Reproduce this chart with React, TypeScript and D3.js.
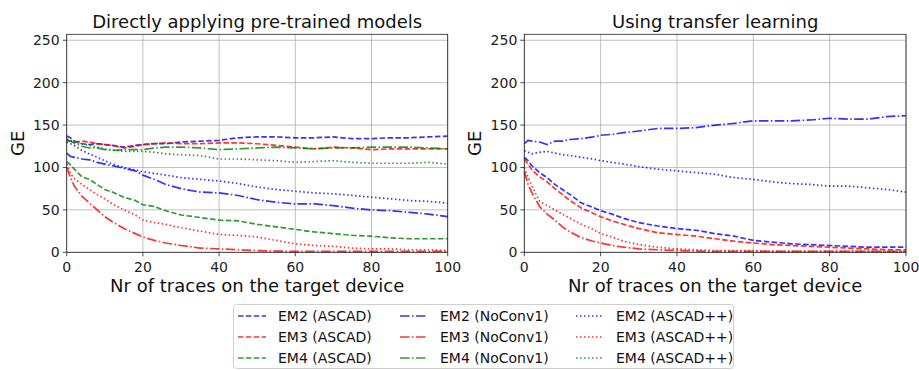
import React from 'react';
import * as d3 from 'd3';

const W = 919;
const H = 370;

const XS = [0, 1, 2, 4, 6, 8, 10, 12, 15, 18, 20, 23, 26, 30, 35, 40, 45, 50, 55, 60, 65, 70, 75, 80, 85, 90, 95, 100];

// left panel: directly applying pre-trained models
const L_EM2_ASCAD = [137, 135, 131, 128, 127, 128, 127, 126, 124, 126, 127, 128, 128, 130, 131, 132, 135, 136, 136, 135, 135, 136, 134, 134, 135, 135, 136, 137];
const L_EM3_ASCAD = [132, 131, 130, 131, 130, 128, 127, 126, 123, 125, 127, 128, 129, 128, 128, 129, 129, 128, 126, 124, 122, 124, 123, 121, 122, 122, 122, 122];
const L_EM4_ASCAD = [107, 103, 98, 89, 86, 80, 74, 71, 65, 61, 56, 54, 49, 44, 41, 38, 37, 33, 30, 27, 24, 22, 20, 19, 17, 16, 16, 16];
const L_EM2_NC = [117, 113, 112, 110, 109, 106, 104, 102, 99, 96, 91, 86, 80, 75, 71, 70, 67, 62, 59, 57, 57, 55, 52, 50, 49, 47, 45, 42];
const L_EM3_NC = [100, 88, 78, 66, 58, 50, 42, 36, 28, 22, 18, 14, 11, 8, 5, 4, 3, 2, 1.5, 1, 1, 1, 1, 1, 1, 1, 1, 1];
const L_EM4_NC = [133, 131, 129, 125, 123, 123, 121, 120, 121, 121, 121, 123, 124, 124, 123, 121, 122, 123, 124, 123, 122, 123, 123, 124, 124, 124, 123, 122];
const L_EM2_PP = [130, 128, 126, 120, 116, 112, 108, 104, 100, 97, 95, 93, 91, 88, 86, 84, 81, 77, 74, 72, 70, 69, 67, 65, 63, 61, 60, 58];
const L_EM3_PP = [104, 93, 87, 80, 74, 68, 63, 57, 50, 44, 38, 35, 33, 29, 25, 21, 20, 18, 14, 10, 8, 7, 5, 4, 4, 3, 3, 2];
const L_EM4_PP = [134, 132, 130, 128, 126, 124, 122, 121, 119, 119, 119, 118, 116, 115, 114, 110, 110, 109, 108, 106, 107, 108, 106, 105, 105, 105, 106, 104];

// right panel: using transfer learning
const R_EM2_ASCAD = [112, 108, 102, 94, 88, 80, 74, 68, 58, 53, 49, 45, 40, 35, 31, 28, 26, 22, 19, 14, 12, 10, 9, 8, 7, 6, 6, 6];
const R_EM3_ASCAD = [110, 104, 97, 89, 83, 75, 68, 61, 52, 46, 42, 37, 33, 28, 23, 21, 19, 16, 13, 11, 9, 8, 7, 6, 5, 4, 3, 3];
const R_EM2_NC = [128, 132, 131, 130, 127, 131, 131, 133, 134, 136, 138, 139, 141, 143, 146, 146, 147, 150, 152, 155, 155, 155, 156, 158, 157, 157, 160, 161];
const R_EM3_NC = [95, 80, 70, 54, 45, 38, 30, 24, 17, 13, 11, 8, 6, 4, 3, 2, 1.5, 1, 1, 1, 1, 1, 1, 1, 1, 1, 1, 1];
const R_EM2_PP = [120, 118, 116, 118, 119, 117, 115, 114, 112, 110, 108, 106, 104, 101, 98, 96, 94, 92, 88, 86, 83, 81, 80, 78, 78, 76, 74, 71];
const R_EM3_PP = [100, 88, 78, 60, 55, 50, 45, 40, 33, 27, 22, 18, 13, 9, 6, 4, 3, 2, 2, 2, 1, 1, 1, 1, 1, 1, 1, 1];

const X_TICKS = [0, 20, 40, 60, 80, 100];
const Y_TICKS = [0, 50, 100, 150, 200, 250];

const COLORS = { EM2: '#0000ff', EM3: '#ff0000', EM4: '#008000' };
const DASH = { ASCAD: '5.5,2.4', NoConv1: '9.6,2.4,1.5,2.4', 'ASCAD++': '1.5,2.5' };

const LEGEND = [
  { label: 'EM2 (ASCAD)', color: COLORS.EM2, dash: DASH.ASCAD },
  { label: 'EM3 (ASCAD)', color: COLORS.EM3, dash: DASH.ASCAD },
  { label: 'EM4 (ASCAD)', color: COLORS.EM4, dash: DASH.ASCAD },
  { label: 'EM2 (NoConv1)', color: COLORS.EM2, dash: DASH.NoConv1 },
  { label: 'EM3 (NoConv1)', color: COLORS.EM3, dash: DASH.NoConv1 },
  { label: 'EM4 (NoConv1)', color: COLORS.EM4, dash: DASH.NoConv1 },
  { label: 'EM2 (ASCAD++)', color: COLORS.EM2, dash: DASH['ASCAD++'] },
  { label: 'EM3 (ASCAD++)', color: COLORS.EM3, dash: DASH['ASCAD++'] },
  { label: 'EM4 (ASCAD++)', color: COLORS.EM4, dash: DASH['ASCAD++'] },
];

const LEFT_SERIES = [
  { ys: L_EM2_ASCAD, color: COLORS.EM2, dash: DASH.ASCAD },
  { ys: L_EM3_ASCAD, color: COLORS.EM3, dash: DASH.ASCAD },
  { ys: L_EM4_ASCAD, color: COLORS.EM4, dash: DASH.ASCAD },
  { ys: L_EM2_NC, color: COLORS.EM2, dash: DASH.NoConv1 },
  { ys: L_EM3_NC, color: COLORS.EM3, dash: DASH.NoConv1 },
  { ys: L_EM4_NC, color: COLORS.EM4, dash: DASH.NoConv1 },
  { ys: L_EM2_PP, color: COLORS.EM2, dash: DASH['ASCAD++'] },
  { ys: L_EM3_PP, color: COLORS.EM3, dash: DASH['ASCAD++'] },
  { ys: L_EM4_PP, color: COLORS.EM4, dash: DASH['ASCAD++'] },
];

const RIGHT_SERIES = [
  { ys: R_EM2_ASCAD, color: COLORS.EM2, dash: DASH.ASCAD },
  { ys: R_EM3_ASCAD, color: COLORS.EM3, dash: DASH.ASCAD },
  { ys: R_EM2_NC, color: COLORS.EM2, dash: DASH.NoConv1 },
  { ys: R_EM3_NC, color: COLORS.EM3, dash: DASH.NoConv1 },
  { ys: R_EM2_PP, color: COLORS.EM2, dash: DASH['ASCAD++'] },
  { ys: R_EM3_PP, color: COLORS.EM3, dash: DASH['ASCAD++'] },
];

const FONT = 'DejaVu Sans, sans-serif';
const TOP = 34.3;
const BOTTOM = 252.3;

function Panel({ x0, x1, title, series }) {
  const x = d3.scaleLinear().domain([0, 100]).range([x0, x1]);
  const y = d3.scaleLinear().domain([0, 257]).range([BOTTOM, TOP]);
  const line = d3.line<number>()
    .x((_, i) => x(XS[i]))
    .y(d => y(d));

  return (
    <g>
      {X_TICKS.map(t => (
        <line key={'gx' + t} x1={x(t)} x2={x(t)} y1={TOP} y2={BOTTOM} stroke="#b0b0b0" strokeWidth={0.8} />
      ))}
      {Y_TICKS.map(t => (
        <line key={'gy' + t} x1={x0} x2={x1} y1={y(t)} y2={y(t)} stroke="#b0b0b0" strokeWidth={0.8} />
      ))}
      {series.map((s, i) => (
        <path key={i} d={line(s.ys) || ''} fill="none" stroke={s.color} strokeOpacity={0.8}
          strokeWidth={1.7} strokeDasharray={s.dash} />
      ))}
      <rect x={x0} y={TOP} width={x1 - x0} height={BOTTOM - TOP} fill="none" stroke="#222" strokeWidth={0.8} />
      {X_TICKS.map(t => (
        <g key={'tx' + t}>
          <line x1={x(t)} x2={x(t)} y1={BOTTOM} y2={BOTTOM + 4} stroke="#222" strokeWidth={0.8} />
          <text x={x(t)} y={272} textAnchor="middle" fontSize={14} fill="#222">{t}</text>
        </g>
      ))}
      {Y_TICKS.map(t => (
        <g key={'ty' + t}>
          <line x1={x0 - 4} x2={x0} y1={y(t)} y2={y(t)} stroke="#222" strokeWidth={0.8} />
          <text x={x0 - 7} y={y(t)} dy="0.35em" textAnchor="end" fontSize={14} fill="#222">{t}</text>
        </g>
      ))}
      <text x={(x0 + x1) / 2} y={28} textAnchor="middle" fontSize={18} fill="#111">{title}</text>
      <text x={(x0 + x1) / 2} y={292} textAnchor="middle" fontSize={18} fill="#111">Nr of traces on the target device</text>
      <text transform={`translate(${x0 - 43},${(TOP + BOTTOM) / 2}) rotate(-90)`} textAnchor="middle" fontSize={18} fill="#111">GE</text>
    </g>
  );
}

export default function App() {
  const cols = [238, 400, 576];
  const rows = [316, 337, 358];
  return (
    <svg width={W} height={H} style={{ position: 'absolute', left: 0, top: 0, background: '#fff' }} fontFamily={FONT}>
      <rect width={W} height={H} fill="#fff" />
      <Panel x0={66.7} x1={447.7} title="Directly applying pre-trained models" series={LEFT_SERIES} />
      <Panel x0={524.3} x1={906} title="Using transfer learning" series={RIGHT_SERIES} />
      <rect x={233.5} y={304.5} width={500} height={64} rx={3} fill="#fff" stroke="#d0d0d0" strokeWidth={1} />
      {LEGEND.map((l, i) => {
        const cx = cols[Math.floor(i / 3)];
        const cy = rows[i % 3];
        return (
          <g key={l.label}>
            <line x1={cx} x2={cx + 28} y1={cy} y2={cy} stroke={l.color} strokeOpacity={0.8} strokeWidth={1.7} strokeDasharray={l.dash} />
            <text x={cx + 40} y={cy} dy="0.35em" fontSize={14} fill="#111">{l.label}</text>
          </g>
        );
      })}
    </svg>
  );
}
